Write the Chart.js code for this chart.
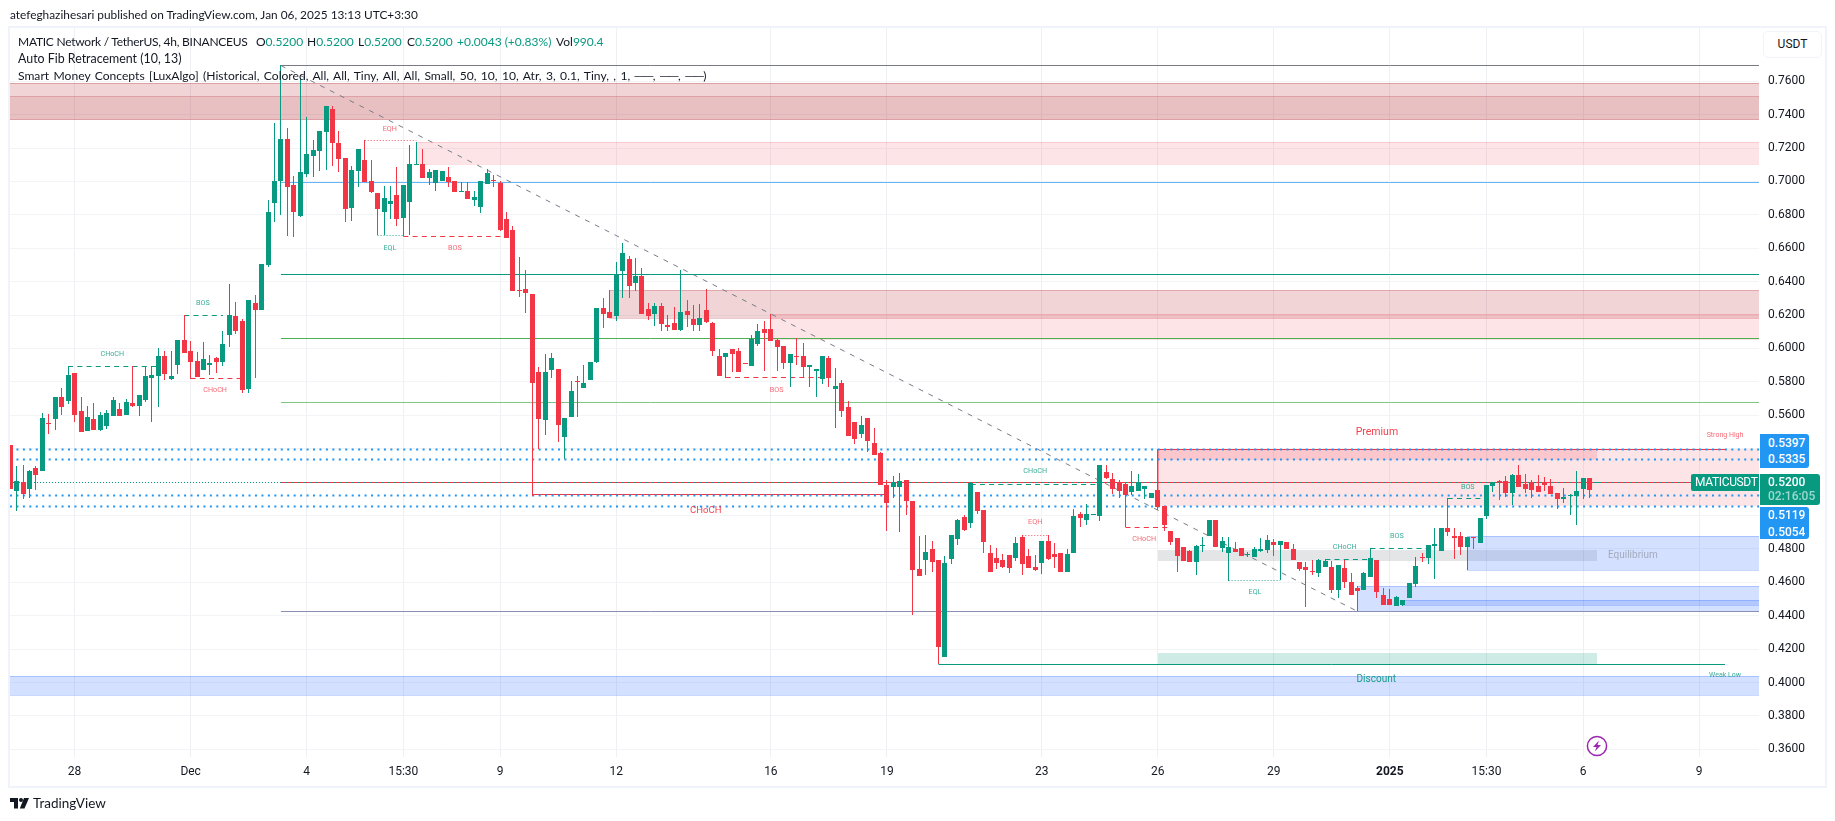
<!DOCTYPE html>
<html>
<head>
<meta charset="utf-8">
<title>MATICUSDT 4h</title>
<script src="https://cdn.jsdelivr.net/npm/chart.js@4"></script>
<style>
  html, body { margin: 0; background: #fff; width: 1835px; height: 821px; overflow: hidden; }
  #myChart { position: absolute; left: 0; top: 0; }
  .txt { position: absolute; white-space: pre; font-family: Lato, sans-serif; color: #131722; font-size: 12px; line-height: 16px; }
  .up { color: #089981; }
  #frame { position: absolute; left: 8px; top: 26px; width: 1815px; height: 758px; border: 2px solid #f0f3fa; pointer-events: none; }
  #usdt { position: absolute; left: 1763px; top: 31px; width: 57px; height: 25px; border: 1px solid #f0f3fa; border-radius: 5px; background: #fff;
          font: 12px/25px Roboto, sans-serif; color: #131722; text-align: center; }
  .badge { position: absolute; left: 1760px; color: #fff; font: 500 12px/16.6px Roboto, sans-serif; padding-left: 8px; box-sizing: border-box; border-radius: 0 3px 3px 0; }
</style>
</head>
<body>
<canvas id="myChart" width="1835" height="821"></canvas>
<div id="frame"></div>
<div class="txt" style="left:10px;top:7px;font-size:11.85px">atefeghazihesari published on TradingView.com, Jan 06, 2025 13:13 UTC+3:30</div>
<div class="txt" style="left:18px;top:34px;letter-spacing:-0.25px">MATIC Network / TetherUS, 4h, BINANCEUS</div>
<div class="txt" style="left:256px;top:34px">O<span class="up">0.5200</span></div>
<div class="txt" style="left:307px;top:34px">H<span class="up">0.5200</span></div>
<div class="txt" style="left:358px;top:34px">L<span class="up">0.5200</span></div>
<div class="txt" style="left:407px;top:34px">C<span class="up">0.5200</span></div>
<div class="txt up" style="left:457px;top:34px">+0.0043 (+0.83%)</div>
<div class="txt" style="left:556px;top:34px">Vol<span class="up">990.4</span></div>
<div class="txt" style="left:18px;top:51px;font-size:12.4px">Auto Fib Retracement (10, 13)</div>
<div class="txt" style="left:18px;top:68px;font-size:12.1px;word-spacing:1.3px">Smart Money Concepts [LuxAlgo] (Historical, Colored, All, All, Tiny, All, All, Small, 50, 10, 10, Atr, 3, 0.1, Tiny, , 1, ──, ──, ──)</div>
<div id="usdt">USDT</div>
<div class="badge" style="top:434px;width:49px;height:34px;background:#2196f3;padding-top:0.5px">0.5397<br>0.5335</div>
<div class="badge" style="top:507px;width:49px;height:32px;background:#2196f3">0.5119<br>0.5054</div>
<div class="badge" style="top:474px;width:60px;height:31px;background:#089981;line-height:14px;padding-top:1px">0.5200<br><span style="color:#9fd8cd">02:16:05</span></div>
<div class="badge" style="left:1691px;top:474px;width:68px;height:17px;background:#089981;border-radius:2px 0 0 2px;line-height:17px;padding-left:4px;font-weight:400;letter-spacing:-0.35px">MATICUSDT</div>
<svg style="position:absolute;left:1586px;top:735px" width="22" height="22" viewBox="0 0 22 22">
  <circle cx="11" cy="11" r="9.6" fill="#fff" stroke="#9c27b0" stroke-width="1.5"/>
  <path d="M13 5.5 L7 12 H10.5 L8.8 16.5 L15 10 H11.5 Z" fill="#9c27b0"/>
</svg>
<svg style="position:absolute;left:10px;top:798px" width="20" height="11" viewBox="0 0 20 11">
  <path d="M0 0 H8 V10.5 H4 V4 H0 Z" fill="#131722"/>
  <circle cx="11" cy="2" r="2" fill="#131722"/>
  <path d="M14 0 H19 L14.5 10.5 H9.8 Z" fill="#131722"/>
</svg>
<div class="txt" style="left:33px;top:795px;font-size:13.5px">TradingView</div>

<script>
// 4h candles, index 0 is the clipped bar on the left edge
const opens = [
  .5422,.5149,.5199,.5161,.5285,.5269,.5554,.5580,.5710,.5686,
  .5854,.5626,.5506,.5578,.5512,.5536,.5596,.5636,.5602,.5672,
  .5654,.5690,.5824,.5834,.5954,.5816,.5900,.6050,.5984,.5924,
  .5870,.5900,.5942,.5918,.6080,.6194,.6164,.5756,.6272,.6230,
  .6499,.6869,.7001,.7253,.6977,.6791,.7043,.7154,.7182,.7296,
  .7433,.7230,.7140,.6841,.7062,.7128,.7002,.6930,.6817,.6865,
  .6919,.6781,.6877,.7098,.7104,.7020,.6990,.7002,.7026,.7002,
  .6936,.6942,.6888,.6847,.6984,.7006,.6990,.6775,.6709,.6349,
  .6355,.6325,.5857,.5569,.5869,.5875,.5473,.5587,.5803,.5761,
  .5809,.5917,.6241,.6217,.6193,.6463,.6535,.6391,.6433,.6235,
  .6205,.6253,.6139,.6151,.6109,.6223,.6175,.6139,.6229,.6151,
  .5953,.5947,.5995,.5983,.5911,.5893,.6025,.6115,.6115,.6049,
  .6013,.5911,.5953,.5953,.5887,.5863,.5815,.5941,.5755,.5791,
  .5647,.5557,.5491,.5581,.5437,.5376,.5183,.5170,.5170,.5212,
  .5086,.4679,.4733,.4799,.4733,.4152,.4739,.4859,.4991,.4955,
  .5140,.5033,.4775,.4745,.4733,.4763,.4745,.4871,.4757,.4691,
  .4715,.4847,.4769,.4775,.4662,.4775,.5009,.4973,.5003,.4997,
  .5260,.5218,.5200,.5188,.5140,.5146,.5158,.5104,.5152,.5056,
  .4907,.4865,.4811,.4787,.4721,.4817,.4877,.4973,.4805,.4775,
  .4799,.4805,.4763,.4751,.4787,.4793,.4841,.4823,.4841,.4799,
  .4721,.4691,.4667,.4655,.4691,.4691,.4553,.4685,.4601,.4566,
  .4553,.4631,.4733,.4524,.4500,.4458,.4464,.4506,.4590,.4751,
  .4745,.4817,.4787,.4925,.4877,.4877,.4811,.4871,.4835,.4997,
  .5176,.5206,.5206,.5134,.5242,.5188,.5200,.5176,.5200,.5176,
  .5134,.5098,.5116,.5116,.5158,.5224,.5200
];
const closes = [
  .5159,.5207,.5131,.5267,.5245,.5584,.5548,.5710,.5650,.5842,
  .5602,.5500,.5590,.5512,.5602,.5614,.5692,.5596,.5678,.5654,
  .5720,.5834,.5842,.5956,.5846,.5834,.6050,.5972,.5918,.5828,
  .5936,.5912,.5918,.6026,.6200,.6104,.5750,.6290,.6230,.6503,
  .6815,.7001,.7253,.6965,.6815,.7055,.7163,.7188,.7301,.7451,
  .7230,.7134,.6835,.7068,.7194,.6996,.6936,.6835,.6901,.6883,
  .6775,.6979,.7104,.7102,.7020,.7056,.7068,.7062,.6996,.6936,
  .6942,.6894,.6906,.7002,.7050,.7002,.6709,.6661,.6344,.6343,
  .6331,.5791,.5575,.5857,.5941,.5539,.5581,.5743,.5797,.5791,
  .5917,.6241,.6205,.6181,.6443,.6571,.6373,.6433,.6205,.6193,
  .6253,.6145,.6127,.6109,.6217,.6199,.6139,.6181,.6157,.5983,
  .5833,.5971,.5965,.5857,.5905,.6055,.6103,.6091,.6043,.6007,
  .5911,.5965,.5947,.5887,.5899,.5875,.5953,.5821,.5773,.5623,
  .5479,.5461,.5539,.5449,.5365,.5183,.5075,.5200,.5206,.5086,
  .4673,.4637,.4781,.4721,.4212,.4715,.4883,.4973,.4913,.5194,
  .5027,.4841,.4662,.4715,.4691,.4685,.4835,.4709,.4685,.4673,
  .4847,.4739,.4751,.4662,.4769,.4997,.4985,.5009,.5009,.5302,
  .5224,.5158,.5146,.5122,.5176,.5200,.5176,.5134,.5050,.4943,
  .4841,.4757,.4727,.4721,.4817,.4823,.4973,.4811,.4847,.4811,
  .4781,.4757,.4769,.4799,.4799,.4853,.4823,.4847,.4799,.4733,
  .4679,.4673,.4662,.4733,.4727,.4553,.4703,.4601,.4524,.4548,
  .4655,.4745,.4542,.4464,.4464,.4512,.4494,.4595,.4697,.4745,
  .4823,.4829,.4925,.4901,.4865,.4811,.4871,.4865,.4983,.5183,
  .5200,.5200,.5134,.5242,.5170,.5158,.5152,.5140,.5182,.5128,
  .5098,.5110,.5122,.5146,.5224,.5152,.5200
];
const highs = [
  .5422,.5297,.5303,.5275,.5297,.5612,.5608,.5710,.5764,.5893,
  .5854,.5710,.5656,.5672,.5620,.5632,.5710,.5672,.5696,.5893,
  .5720,.5893,.5893,.6002,.5984,.5984,.6050,.6200,.6044,.5978,
  .6038,.5960,.5948,.6104,.6386,.6278,.6176,.6290,.6320,.6506,
  .6887,.7349,.7697,.7319,.7031,.7619,.7385,.7248,.7301,.7451,
  .7451,.7302,.7140,.7092,.7194,.7248,.7128,.6930,.6973,.6973,
  .7086,.6979,.7218,.7236,.7194,.7074,.7068,.7062,.7086,.7002,
  .6996,.6996,.6942,.7002,.7074,.7038,.7002,.6817,.6733,.6547,
  .6469,.6325,.5887,.5965,.5971,.5875,.5581,.5803,.5833,.5899,
  .5917,.6241,.6301,.6349,.6517,.6631,.6553,.6541,.6481,.6271,
  .6271,.6271,.6199,.6247,.6469,.6289,.6259,.6265,.6355,.6157,
  .5995,.5971,.5995,.6001,.5911,.6079,.6145,.6163,.6205,.6055,
  .6013,.5965,.6061,.6031,.5899,.5875,.5953,.5953,.5881,.5809,
  .5683,.5557,.5593,.5581,.5521,.5382,.5213,.5236,.5254,.5212,
  .5086,.4877,.4883,.4847,.4733,.4757,.4883,.4979,.5003,.5194,
  .5140,.5033,.4823,.4805,.4769,.4763,.4871,.4883,.4799,.4763,
  .4847,.4883,.4835,.4775,.4799,.5039,.5021,.5069,.5009,.5302,
  .5302,.5254,.5212,.5200,.5266,.5248,.5176,.5134,.5152,.5056,
  .4907,.4865,.4811,.4793,.4823,.4871,.4973,.4973,.4871,.4871,
  .4841,.4805,.4781,.4811,.4865,.4883,.4859,.4847,.4841,.4829,
  .4721,.4721,.4733,.4739,.4739,.4727,.4703,.4733,.4656,.4578,
  .4662,.4803,.4733,.4566,.4560,.4518,.4494,.4595,.4751,.4775,
  .4823,.4925,.4925,.5102,.4925,.4901,.4871,.4871,.4983,.5183,
  .5200,.5212,.5236,.5248,.5302,.5248,.5212,.5242,.5230,.5218,
  .5134,.5164,.5128,.5266,.5224,.5224,.5200
];
const lows = [
  .5159,.5029,.5101,.5107,.5153,.5269,.5488,.5512,.5602,.5670,
  .5560,.5500,.5506,.5512,.5506,.5518,.5596,.5596,.5602,.5648,
  .5594,.5678,.5558,.5650,.5810,.5810,.5846,.5972,.5820,.5828,
  .5870,.5840,.5852,.5894,.6008,.6086,.5732,.5732,.5822,.6230,
  .6487,.6755,.6797,.6671,.6665,.6785,.7025,.7028,.7062,.7068,
  .7092,.7056,.6757,.6763,.6966,.6996,.6930,.6679,.6679,.6775,
  .6733,.6673,.6679,.7098,.7020,.6978,.6942,.7002,.6966,.6936,
  .6936,.6894,.6852,.6811,.6984,.6966,.6703,.6661,.6344,.6307,
  .6211,.5119,.5401,.5485,.5821,.5443,.5341,.5587,.5587,.5761,
  .5809,.5911,.6121,.6181,.6163,.6301,.6301,.6343,.6205,.6169,
  .6133,.6103,.6103,.6109,.6103,.6127,.6103,.6103,.6151,.5953,
  .5833,.5825,.5857,.5857,.5905,.5893,.6013,.5863,.6043,.5863,
  .5875,.5767,.5899,.5827,.5767,.5707,.5785,.5767,.5521,.5587,
  .5479,.5431,.5467,.5383,.5365,.5183,.4907,.5104,.4901,.5003,
  .4404,.4637,.4643,.4661,.4109,.4152,.4709,.4823,.4907,.4925,
  .5009,.4775,.4662,.4679,.4685,.4655,.4727,.4643,.4685,.4667,
  .4649,.4733,.4685,.4662,.4662,.4775,.4931,.4943,.5003,.4967,
  .5218,.5128,.5104,.4929,.5122,.5146,.5098,.5104,.5032,.4907,
  .4823,.4662,.4727,.4721,.4643,.4781,.4877,.4811,.4781,.4608,
  .4781,.4757,.4751,.4751,.4781,.4775,.4757,.4614,.4799,.4733,
  .4667,.4452,.4643,.4631,.4691,.4536,.4506,.4566,.4524,.4428,
  .4553,.4631,.4506,.4464,.4464,.4458,.4458,.4506,.4572,.4721,
  .4709,.4619,.4787,.4877,.4739,.4763,.4673,.4799,.4835,.4979,
  .5140,.5092,.5110,.5063,.5170,.5134,.5104,.5140,.5146,.5128,
  .5038,.5074,.5002,.4943,.5098,.5104,.5200
];

// time axis
const xTickIdx = [10, 28, 46, 61, 76, 94, 118, 136, 160, 178, 196, 214, 229, 244, 262];
const xTickLabels = ['28', 'Dec', '4', '15:30', '9', '12', '16', '19', '23', '26', '29', '2025', '15:30', '6', '9'];
const xMin = -0.02;
const xMax = 271.27;

// price axis
const yTickValues = [0.76, 0.74, 0.72, 0.70, 0.68, 0.66, 0.64, 0.62, 0.60, 0.58, 0.56, 0.54, 0.52, 0.50, 0.48, 0.46, 0.44, 0.42, 0.40, 0.38, 0.36];
const yHiddenTicks = [0.54, 0.52, 0.50];
const yMin = 0.3554;
const yMax = 0.7919;

// fib levels
const fibLevels = [0.7694, 0.6995, 0.6444, 0.6061, 0.5678, 0.52, 0.4426];
const fibColors = ['#787b86', '#64b5f6', '#089981', '#4caf50', '#81c784', '#f23645', '#8a8fb3'];
const fibStart = 42;

// blue dotted levels
const dotLevels = [0.5397, 0.5335, 0.5119, 0.5054];
const lastPrice = 0.52;

// market structure lines
const segFrom  = [9, 27, 28, 55, 57, 61, 111, 81, 149, 157, 173, 144, 178, 189, 204, 211, 223];
const segTo    = [23, 33, 36, 63, 61, 77, 127, 136, 169, 161, 180, 266, 266, 197, 211, 220.5, 229];
const segPrice = [.5893, .62, .582, .7244, .6675, .6672, .5829, .5123, .5188, .4881, .4929, .4109, .5397, .4612, .4737, .4803, .5103];
const segColor = ['g', 'g', 'r', 'r', 'g', 'r', 'r', 'r', 'g', 'r', 'r', 'g', 'r', 'g', 'g', 'g', 'g'];
const segKind  = ['dash', 'dash', 'dash', 'dot', 'dot', 'dash', 'dash', 'solid', 'dash', 'dot', 'dash', 'solid', 'solid', 'dot', 'dash', 'dash', 'dash'];

// diagonal from the fib swing
const trendIdx = [42, 209];
const trendPrice = [0.7694, 0.4426];

// zones
const darkRed = 'rgba(178,40,51,.2)';
const innerRed = 'rgba(178,40,51,.12)';
const lightRed = 'rgba(242,54,69,.13)';
const blueZone = 'rgba(41,98,255,.2)';
const zoneFrom = [xMin, xMin, 63.1, 92.9, 118, 178, 178, 178, 178, xMin, 226, 209, 216];
const zoneTo   = [xMax, xMax, xMax, xMax, xMax, xMax, 246.1, 246.1, 246.1, xMax, xMax, xMax, xMax];
const zoneTop  = [.7588, .7509, .7236, .6348, .6206, .5397, .5397, .4793, .4176, .4037, .4875, .4578, .4492];
const zoneBot  = [.7372, .7372, .7103, .6184, .6057, .5054, .5335, .4727, .4109, .3928, .4675, .4428, .4462];
const zoneFill = [darkRed, innerRed, lightRed, darkRed, lightRed, lightRed, 'rgba(242,54,69,.17)', 'rgba(120,123,134,.2)', 'rgba(8,153,129,.2)', blueZone, blueZone, blueZone, blueZone];
const zoneEdge = ['rgba(178,40,51,.3)', 'rgba(178,40,51,.2)', 'rgba(242,54,69,.15)', 'rgba(178,40,51,.25)', 'rgba(242,54,69,.15)', null, null, null, null, 'rgba(41,98,255,.25)', 'rgba(41,98,255,.25)', 'rgba(41,98,255,.25)', 'rgba(41,98,255,.25)'];

// small chart texts
const labelText  = ['CHoCH', 'BOS', 'CHoCH', 'EQH', 'EQL', 'BOS', 'BOS', 'CHoCH', 'CHoCH', 'EQH', 'CHoCH', 'EQL', 'CHoCH', 'BOS', 'BOS', 'Premium', 'Discount', 'Equilibrium', 'Strong High', 'Weak Low'];
const labelIdx   = [15.85, 29.9, 31.8, 58.9, 58.9, 69, 118.9, 107.9, 159, 159, 175.9, 193.1, 207, 215.1, 226.1, 212, 211.9, 251.7, 266, 266];
const labelPrice = [.5965, .627, .5749, .7312, .6603, .6603, .5753, .5027, .5268, .4957, .4861, .4543, .4813, .4879, .5172, .5496, .4021, .4759, .548, .4043];
const labelColor = ['g', 'g', 'r', 'r', 'g', 'r', 'r', 'R', 'g', 'r', 'r', 'g', 'g', 'g', 'g', 'R', 'G', 'n', 'r', 'g'];
const labelSize  = [7.2, 7.2, 7.2, 7.2, 7.2, 7.2, 7.2, 9.5, 7.2, 7.2, 7.2, 7.2, 7.2, 7.2, 7.2, 10.5, 10, 10, 7, 7];

const green = '#089981';
const red = '#f23645';
const candleColors = opens.map((o, i) => closes[i] >= o ? green : red);
const labelInk = { g: 'rgba(8,153,129,.8)', G: 'rgba(8,153,129,.95)', r: 'rgba(242,54,69,.75)', R: 'rgba(242,54,69,.95)', n: 'rgba(120,123,134,.55)' };

const lineDatasets = [];
fibLevels.forEach((lvl, i) => {
  lineDatasets.push({ type: 'line', data: [{ x: fibStart, y: lvl }, { x: xMax, y: lvl }], borderColor: fibColors[i], borderWidth: 1, order: 3 });
});
dotLevels.forEach(lvl => {
  lineDatasets.push({ type: 'line', data: [{ x: xMin, y: lvl }, { x: xMax, y: lvl }], borderColor: '#2196f3', borderWidth: 2, borderDash: [2, 4.447], order: 2 });
});
lineDatasets.push({ type: 'line', data: [{ x: xMin, y: lastPrice }, { x: xMax, y: lastPrice }], borderColor: green, borderWidth: 1, borderDash: [1, 2], order: 2 });
segFrom.forEach((from, i) => {
  let kind = segKind[i];
  let col = segColor[i] == 'g' ? green : red;
  lineDatasets.push({
    type: 'line',
    data: [{ x: from, y: segPrice[i] }, { x: segTo[i], y: segPrice[i] }],
    borderColor: kind == 'dot' ? (segColor[i] == 'g' ? 'rgba(8,153,129,.85)' : 'rgba(242,54,69,.85)') : col,
    borderWidth: 1,
    borderDash: kind == 'dash' ? [5, 4.2] : kind == 'dot' ? [1, 2] : [],
    order: 2
  });
});
// left edge of the premium box
lineDatasets.push({ type: 'line', data: [{ x: 178, y: 0.5397 }, { x: 178, y: highs[178] }], borderColor: red, borderWidth: 1, order: 2 });
lineDatasets.push({ type: 'line', trend: true, data: trendIdx.map((v, i) => ({ x: v, y: trendPrice[i] })), borderColor: '#787b86', borderWidth: 1, borderDash: [5, 6], order: 2 });

const zonesPlugin = {
  id: 'zones',
  beforeDatasetsDraw(chart) {
    const { ctx, chartArea, scales: { x, y } } = chart;
    ctx.save();
    ctx.beginPath();
    ctx.rect(chartArea.left, chartArea.top, chartArea.width, chartArea.height);
    ctx.clip();
    zoneFrom.forEach((from, i) => {
      let l = Math.round(x.getPixelForValue(from));
      let r = Math.round(x.getPixelForValue(zoneTo[i]));
      let t = Math.round(y.getPixelForValue(zoneTop[i]));
      let b = Math.round(y.getPixelForValue(zoneBot[i]));
      ctx.fillStyle = zoneFill[i];
      ctx.fillRect(l, t, r - l, b - t);
      if (zoneEdge[i]) {
        ctx.fillStyle = zoneEdge[i];
        ctx.fillRect(l, t, r - l, 1);
        ctx.fillRect(l, b, r - l, 1);
      }
    });
    ctx.restore();
  },
  afterDatasetsDraw(chart) {
    const { ctx, scales: { x, y } } = chart;
    ctx.save();
    ctx.textAlign = 'center';
    ctx.textBaseline = 'middle';
    labelText.forEach((txt, i) => {
      ctx.font = labelSize[i] + 'px Roboto, sans-serif';
      ctx.fillStyle = labelInk[labelColor[i]];
      ctx.fillText(txt, x.getPixelForValue(labelIdx[i]), y.getPixelForValue(labelPrice[i]));
    });
    ctx.restore();
  }
};

// snap marks to whole pixels so wicks and levels stay crisp
const snapPlugin = {
  id: 'snap',
  afterDatasetsUpdate(chart) {
    chart.data.datasets.forEach((ds, n) => {
      if (ds.trend) return;
      chart.getDatasetMeta(n).data.forEach(el => {
        if (ds.type == 'line') {
          el.y = Math.floor(el.y) + 0.5;
          return;
        }
        el.x = Math.floor(el.x) + 0.5;
        el.y = Math.round(el.y);
        el.base = Math.round(el.base);
        if (el.y == el.base) el.base = el.y + 1;
      });
    });
  }
};

new Chart(document.getElementById('myChart'), {
  type: 'bar',
  data: {
    datasets: [
      {
        data: opens.map((o, i) => ({ x: i, y: [o, closes[i]] })),
        backgroundColor: candleColors,
        barThickness: 5,
        borderWidth: 0,
        inflateAmount: 0,
        grouped: false,
        order: 0
      },
      {
        data: lows.map((l, i) => ({ x: i, y: [l, highs[i]] })),
        backgroundColor: candleColors,
        barThickness: 1,
        borderWidth: 0,
        inflateAmount: 0,
        grouped: false,
        order: 1
      },
      ...lineDatasets
    ]
  },
  options: {
    responsive: false,
    animation: false,
    layout: { padding: { left: 10, top: 28, right: 10, bottom: 36 } },
    elements: { point: { radius: 0 }, line: { tension: 0 } },
    plugins: { legend: { display: false }, tooltip: { enabled: false } },
    scales: {
      x: {
        type: 'linear',
        offset: false,
        min: xMin,
        max: xMax,
        afterBuildTicks: s => { s.ticks = xTickIdx.map(v => ({ value: v })); },
        afterFit: s => { s.height = 28; },
        grid: { offset: false, color: '#eef0f4', drawTicks: false },
        border: { display: false },
        ticks: {
          autoSkip: false,
          maxRotation: 0,
          padding: 8,
          color: '#131722',
          font: c => ({ family: 'Roboto, sans-serif', size: 12, weight: c.tick && c.tick.value == 214 ? 'bold' : 'normal' }),
          callback: v => xTickLabels[xTickIdx.indexOf(v)]
        }
      },
      y: {
        position: 'right',
        min: yMin,
        max: yMax,
        afterBuildTicks: s => { s.ticks = yTickValues.map(v => ({ value: v })); },
        afterFit: s => { s.width = 66; },
        grid: { color: '#f3f4f6', drawTicks: false },
        border: { display: false },
        ticks: {
          padding: 9,
          color: '#131722',
          font: { family: 'Roboto, sans-serif', size: 12 },
          callback: v => yHiddenTicks.includes(v) ? '' : v.toFixed(4)
        }
      }
    }
  },
  plugins: [zonesPlugin, snapPlugin]
});
</script>
</body>
</html>
